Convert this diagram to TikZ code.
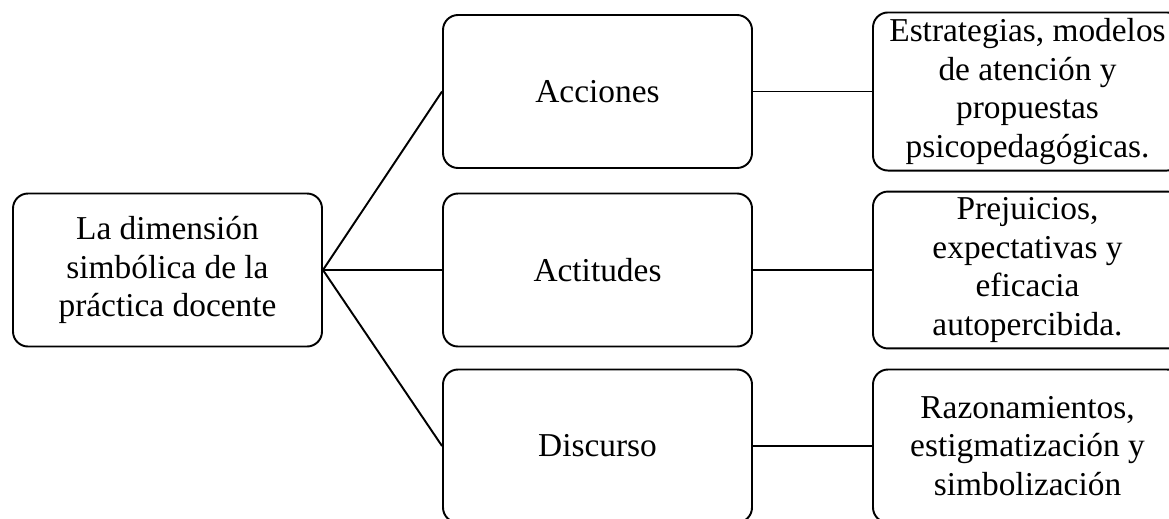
\documentclass[tikz,border=0pt]{standalone}
\usepackage{fontspec}
\setmainfont{Liberation Serif}
\usepackage{tikz}
\usetikzlibrary{positioning,calc}

\tikzset{
  dimbox/.style={draw=black, line width=1.1pt, rounded corners=0.3cm, fill=white,
    minimum width=6.18cm, minimum height=3.06cm, align=center,
    font=\fontsize{19}{22}\selectfont},
  link/.style={draw=black, line width=1.1pt}
}

\begin{document}
\begin{tikzpicture}
% Frame of the page
\useasboundingbox (0,0) rectangle (23.38,-10.36);
\clip (0,0) rectangle (23.38,-10.36);

% Root
\node[dimbox] (raiz) at (3.35,-5.4) {La dimensión\\simbólica de la\\práctica docente};

% Middle column
\node[dimbox] (acciones) at (11.95,-1.83) {Acciones};
\node[dimbox] (actitudes) at (11.95,-5.4) {Actitudes};
\node[dimbox] (discurso) at (11.95,-8.92) {Discurso};

% Right column
\node[dimbox] (accdet) at (20.55,-1.83) {Estrategias, modelos\\de atención y\\propuestas\\psicopedagógicas.};
\node[dimbox] (actdet) at (20.55,-5.4) {Prejuicios,\\expectativas y\\eficacia\\autopercibida.};
\node[dimbox] (disdet) at (20.55,-8.92) {Razonamientos,\\estigmatización y\\simbolización};

% Links
\draw[link] (raiz.east) -- (acciones.west);
\draw[link] (raiz.east) -- (actitudes.west);
\draw[link] (raiz.east) -- (discurso.west);
\draw[link] (acciones.east) -- (accdet.west);
\draw[link] (actitudes.east) -- (actdet.west);
\draw[link] (discurso.east) -- (disdet.west);
\end{tikzpicture}
\end{document}
